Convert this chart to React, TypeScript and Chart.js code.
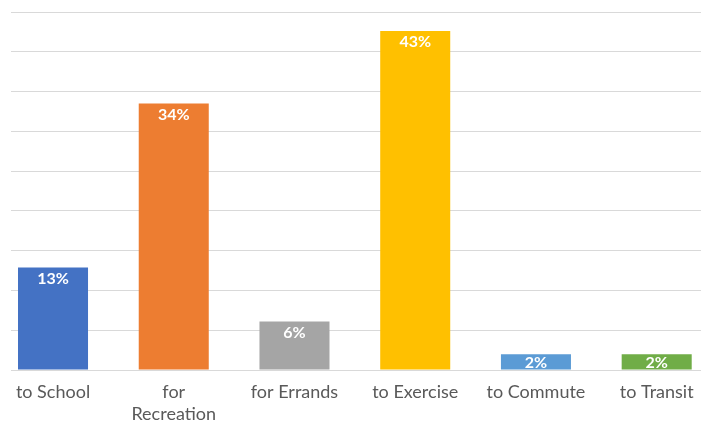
import React, { useEffect, useRef } from "react";
import { Chart, registerables } from "chart.js";

Chart.register(...registerables);

const categories: (string | string[])[] = [
  "to School",
  ["for", "Recreation"],
  "for Errands",
  "to Exercise",
  "to Commute",
  "to Transit",
];
const shares: number[] = [12.9, 33.5, 6.1, 42.6, 2.0, 2.0];
const barColors: string[] = ["#4472C4", "#ED7D31", "#A5A5A5", "#FFC000", "#5B9BD5", "#70AD47"];
const yTicksMax = 45;
const yTickStep = 5;

const barLabelPlugin = {
  id: "barLabels",
  afterDatasetsDraw(chart: any) {
    const { ctx } = chart;
    const meta = chart.getDatasetMeta(0);
    ctx.save();
    ctx.fillStyle = "#ffffff";
    ctx.font = "bold 16px Lato";
    ctx.textAlign = "center";
    ctx.textBaseline = "middle";
    meta.data.forEach((bar: any, i: number) => {
      const v = shares[i];
      const y = Math.min(bar.y + 11, (bar.y + bar.base) / 2 + 1);
      ctx.fillText(Math.round(v) + "%", bar.x, y);
    });
    ctx.restore();
  },
};

export default function App() {
  const canvasRef = useRef<HTMLCanvasElement | null>(null);

  useEffect(() => {
    if (!canvasRef.current) return;
    const chart = new Chart(canvasRef.current, {
      type: "bar",
      data: {
        datasets: [
          {
            data: shares.map((v, i) => ({ x: i, y: v })),
            backgroundColor: barColors,
            borderWidth: 0,
            categoryPercentage: 1,
            barPercentage: 0.58,
          },
        ],
      },
      options: {
        animation: false,
        responsive: true,
        maintainAspectRatio: false,
        layout: { padding: { left: 11, right: 14, top: 12, bottom: 0 } },
        plugins: {
          legend: { display: false },
          tooltip: { enabled: false },
        },
        scales: {
          x: {
            type: "linear",
            offset: false,
            min: -0.348,
            max: 5.367,
            grid: { display: false, drawTicks: false },
            border: { display: false },
            afterBuildTicks: (scale: any) => {
              scale.ticks = categories.map((_, i) => ({ value: i }));
            },
            ticks: {
              autoSkip: false,
              maxRotation: 0,
              padding: 11,
              color: "#595959",
              font: { family: "Lato", size: 18, lineHeight: 1.22 },
              callback: (v: any) => categories[v as number] ?? "",
            },
          },
          y: {
            min: 0,
            max: yTicksMax,
            ticks: { display: false, stepSize: yTickStep },
            grid: { color: "#d9d9d9", lineWidth: 1, drawTicks: false },
            border: { display: false },
          },
        },
      },
      plugins: [barLabelPlugin],
    });
    return () => chart.destroy();
  }, []);

  return (
    <div style={{ position: "fixed", left: 0, top: 0, width: 715, height: 424, overflow: "hidden", background: "#fff" }}>
      <div style={{ position: "relative", width: 715, height: 436 }}>
        <canvas ref={canvasRef} />
      </div>
    </div>
  );
}
